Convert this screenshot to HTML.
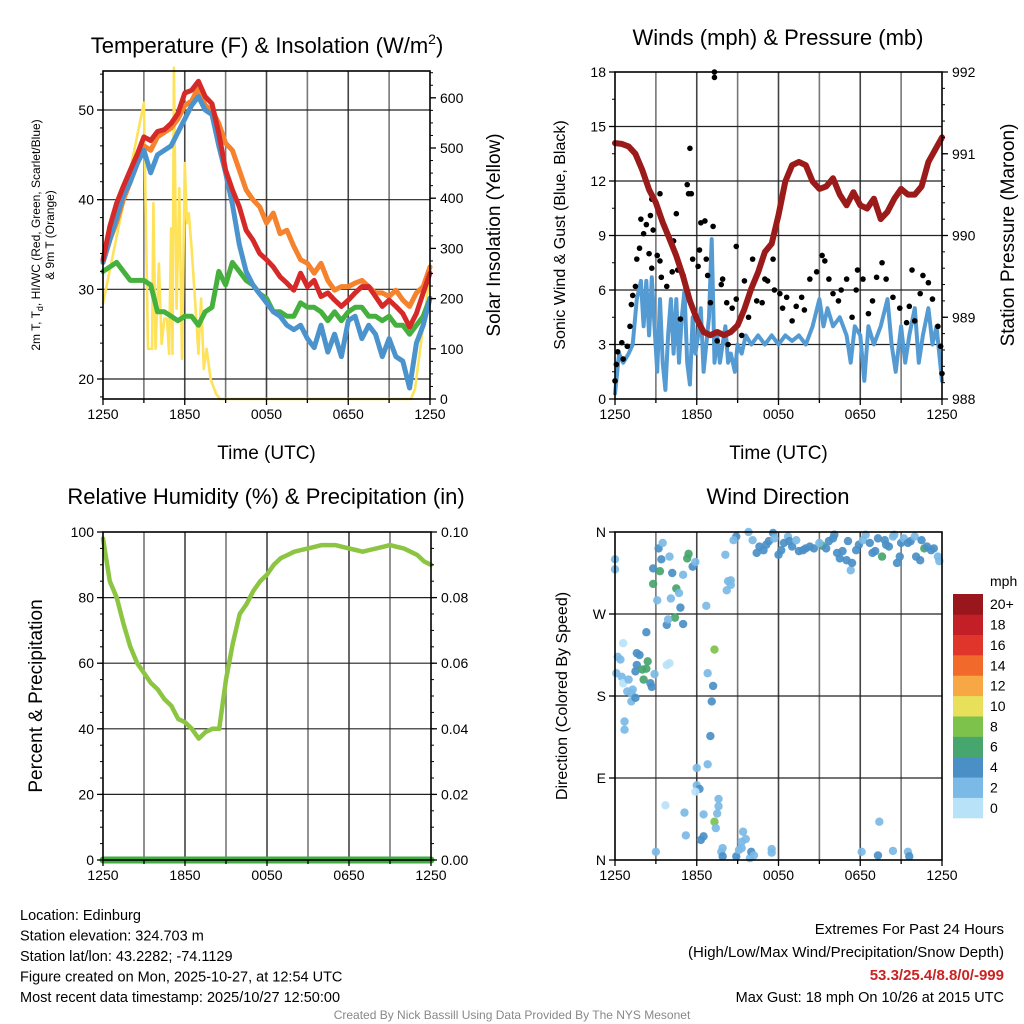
<!DOCTYPE html>
<html><head><meta charset="utf-8"><style>
html,body{margin:0;padding:0;background:#fff;}
svg{display:block;font-family:"Liberation Sans",Arial,sans-serif;}
</style></head><body>
<svg id="c" width="1024" height="1024" viewBox="0 0 1024 1024"></svg>
<script>
// ---------- DATA ----------
const hours = [0,0.5,1,1.5,2,2.5,3,3.5,4,4.5,5,5.5,6,6.5,7,7.5,8,8.5,9,9.5,10,10.5,11,11.5,12,12.5,13,13.5,14,14.5,15,15.5,16,16.5,17,17.5,18,18.5,19,19.5,20,20.5,21,21.5,22,22.5,23,23.5,24];
const tempRed = [33.3,37,39.6,41.5,43.3,45,47,46.6,47.6,47.8,48.5,49.6,51.9,52.2,53.2,51.5,50.7,47.4,43.3,41.1,39.2,36.6,35.5,34,33.3,32.5,31.4,30.7,29.9,31.8,30.3,31,29.2,29.6,28.8,28.1,28.8,29.6,30.3,30.3,29.2,28.1,28.8,28.1,27.3,25.8,27.3,29.6,31.8];
const temp9m = [33,35.5,37.5,40,42,44,46,45.5,47,47.5,48,49,50.5,51,52.5,50.5,50,48.5,46.3,45.5,43.3,41.1,40,39.2,37.4,38.5,36.2,36.6,34.8,33.3,32.9,31.8,32.9,31,29.9,30.3,30.3,30.7,31,30.3,29.6,29.6,29.2,29.9,28.8,28.1,29.6,30.3,32.5];
const windChill = [33,35.5,38,40.5,42,44,45.5,43,45,45.5,46,47.5,49,50.5,51.5,50,49.5,46,43,39.5,35,32,30.5,29.5,28.5,27.5,27,26,25.5,26,24.5,23.5,26,23,25,22.5,26.5,27,24.5,26,25,22.5,24.5,22.5,22,19,24,26,29];
const dewpoint = [32,32.5,33,32,31,31,31,30.5,27.5,27.5,27,26.5,27,27,26,27.5,28,32,30.5,33,32,31,30.5,29.5,29,27.5,27.5,27,27,28.5,28,28,27.5,26.5,27.5,26.5,27.5,28,28,27,27,26.5,27,26,26,25,26,27,29];
const solarHours = [0,3.0,3.3,3.6,3.7,3.85,4.1,4.3,4.5,4.7,4.85,5.0,5.1,5.2,5.4,5.6,5.8,6.0,6.15,6.3,6.5,6.8,7.0,7.2,7.4,7.6,7.9,8.3,8.6,22.6,22.9,24];
const solar = [190,590,100,100,390,100,270,110,160,160,90,340,90,660,180,420,80,470,350,370,300,180,90,200,60,100,40,10,0,0,20,250];

const pressure = [991.13,991.12,991.09,991.0,990.8,990.56,990.4,990.16,989.96,989.75,989.5,989.2,988.98,988.82,988.78,988.82,988.78,988.82,988.9,989.1,989.35,989.55,989.8,989.9,990.25,990.66,990.86,990.9,990.86,990.66,990.57,990.6,990.7,990.5,990.37,990.53,990.37,990.33,990.45,990.2,990.29,990.45,990.57,990.5,990.5,990.6,990.9,991.05,991.2];
const windHours = [0,0.3,0.6,1.0,1.3,1.6,1.9,2.1,2.3,2.5,2.7,2.9,3.1,3.3,3.5,3.7,3.9,4.1,4.3,4.5,4.7,4.9,5.1,5.3,5.5,5.7,5.9,6.1,6.3,6.5,6.7,6.9,7.1,7.3,7.5,7.7,7.9,8.1,8.3,8.5,8.8,9.0,9.3,9.6,10,10.5,11,11.5,12,12.5,13,13.5,14,14.5,15,15.3,15.6,16,16.5,17,17.3,17.6,18,18.3,18.6,19,19.5,20,20.3,20.6,21,21.3,21.6,22,22.3,22.6,23,23.3,23.6,24];
const windSpeed = [0.3,2.5,2.0,2.5,3,5.5,6.5,4,6.5,3.5,6.7,4,1.5,5.5,2,0.5,3.5,5.5,2.5,5.5,2,4.5,6,2,0.8,4.5,2.5,3.5,5,1.5,3,4.5,8.8,2,3.5,2,3,4,2,2.5,1.5,3,2.5,3.5,3,3.5,3,3.5,3,3.5,3.2,3.5,3,4,5.5,4,5,4,4.5,3.5,2,4,3.5,1,4,3,4,5.5,3,1.5,4,2,3.5,5,2,3.5,5,3,4,1];
const gustHours = [0,0.1,0.2,0.5,0.6,0.9,1.1,1.2,1.3,1.5,1.6,1.8,1.9,2.1,2.3,2.6,2.7,2.8,2.5,2.7,3.1,3.3,3.3,3.4,3.8,4.2,4.3,4.5,4.6,4.8,5.0,5.3,5.4,5.5,5.6,5.7,6.0,6.1,6.2,6.3,6.6,6.7,6.8,7.0,7.2,7.3,7.3,7.5,7.8,7.9,8.2,8.3,8.6,8.9,8.9,9.3,9.5,9.8,10.1,10.4,10.8,11.0,11.2,11.6,11.7,12.1,12.3,12.6,13.0,13.3,13.7,13.9,14.3,14.8,15.2,15.4,15.7,16.0,16.4,16.6,17.0,17.4,17.7,17.8,18.2,18.6,18.9,19.2,19.6,19.9,20.4,20.9,21.4,21.6,21.8,22.0,22.4,22.6,23.0,23.3,23.7,23.9,24.0];
const gustSpeed = [1.0,1.9,2.6,3.1,2.2,2.9,4.0,5.2,5.7,6.2,7.7,8.3,9.9,9.1,9.6,10.1,11.0,9.3,8.0,7.2,7.9,11.3,7.6,6.7,6.2,7.0,8.7,10.2,7.1,4.4,6.8,11.8,11.3,13.8,11.3,7.7,4.4,7.3,8.2,9.7,9.8,7.7,6.8,5.3,9.5,17.7,18.0,3.2,6.3,6.6,5.3,3.0,5.0,8.4,5.5,3.5,6.5,4.5,7.7,5.4,5.3,6.6,6.5,7.7,6.0,5.8,5.0,5.6,4.3,5.1,5.6,4.9,6.6,7.0,7.9,7.6,6.6,5.8,5.4,6.0,6.6,4.5,6.0,7.1,6.6,4.7,5.4,6.7,7.5,6.6,5.6,5.0,4.2,5.1,7.1,4.3,5.8,6.8,6.4,5.5,4.0,2.9,1.4];

const rh = [98,85,80,72,65,60,57,54,52,49,47,43,42,40,37,39,40,40,55,66,75,78,82,85,87,90,92,93,94,94.5,95,95.5,96,96,96,95.5,95,94.5,94,94.5,95,95.5,96,95.5,95,94,93,91,90];
const precip = [0,0,0,0,0,0,0,0,0,0,0,0,0,0,0,0,0,0,0,0,0,0,0,0,0,0,0,0,0,0,0,0,0,0,0,0,0,0,0,0,0,0,0,0,0,0,0,0,0];

const dirHours = [0.0,0.0,0.7,0.7,0.2,0.4,0.1,0.5,0.6,0.6,1.0,0.9,1.2,1.3,1.2,1.5,1.6,1.8,1.6,1.5,2.0,2.1,2.4,2.3,2.6,2.7,2.9,2.3,2.8,2.8,3.1,3.3,3.4,3.2,3.5,4.0,4.2,4.1,4.5,4.7,4.8,4.4,3.8,3.9,5.0,5.0,5.4,5.3,5.7,5.9,6.7,8.1,3.8,4.0,3.7,3.0,5.1,5.2,6.0,6.0,6.2,5.9,6.3,6.5,6.5,6.8,6.8,7.2,7.1,7.0,7.3,7.3,7.4,7.5,7.6,7.6,7.8,7.9,7.9,8.9,9.1,9.3,9.4,9.6,9.3,9.9,10.0,10.2,11.5,11.5,8.3,8.5,8.2,8.5,8.9,8.7,9.8,18.1,19.3,19.4,20.4,21.5,21.6,10.1,10.4,10.6,10.9,11.1,11.3,11.6,11.7,12.0,12.2,12.4,12.7,12.8,13.0,13.3,13.5,13.8,14.0,14.3,14.6,15.2,15.0,15.5,15.7,16.0,16.1,16.3,16.5,16.7,17.0,17.1,17.3,17.4,17.7,17.9,18.2,18.4,18.7,18.9,19.1,19.3,19.6,19.8,19.9,20.1,20.4,20.5,20.7,20.9,21.0,21.2,21.5,21.7,22.0,22.1,22.4,22.7,22.9,23.2,23.4,23.7,23.8,22.5];
const dirDeg = [330,319,152,143,223,220,205,201,194,238,198,185,183,187,174,178,227,225,214,207,209,198,218,210,194,190,204,250,320,303,285,317,330,342,348,333,315,287,298,293,277,266,258,264,259,313,336,331,322,327,279,335,214,216,60,9,52,27,101,82,78,75,22,26,50,105,205,191,174,136,231,42,35,51,67,59,9,4,13,4,11,20,31,23,13,2,9,5,12,8,306,307,296,302,355,351,360,9,5,42,10,9,4,351,337,344,340,346,350,359,353,335,340,348,355,350,344,351,339,340,342,344,342,345,348,342,350,353,357,337,331,339,329,350,318,326,340,346,351,357,348,337,339,353,333,351,346,344,355,357,326,333,348,353,348,350,355,333,329,342,344,340,342,333,328,351];
const dirSpeed = [3,3,3,3,3,3,3,3,1,1,3,3,3,3,3,5,5,5,5,5,7,7,7,7,5,5,3,5,5,7,3,7,5,5,3,3,5,3,7,3,5,7,5,3,5,3,7,7,5,3,3,3,1,1,1,3,3,3,3,3,5,1,5,5,3,3,3,5,5,5,9,9,3,3,3,3,3,5,3,5,3,3,3,3,3,3,5,3,3,3,3,3,3,3,5,3,3,3,5,3,3,3,5,3,5,5,5,5,5,5,3,5,5,5,3,5,5,3,5,5,5,5,5,7,3,5,5,5,5,5,5,5,5,5,3,5,5,5,3,3,5,5,5,5,7,5,5,5,3,3,5,5,5,3,5,5,3,5,5,7,5,5,5,3,3,5];

const timeTickLabels = ["1250","1850","0050","0650","1250"];
const tempTicks = [20,30,40,50];
const solarTicks = [0,100,200,300,400,500,600];
const windTicks = [0,3,6,9,12,15,18];
const pressTicks = [988,989,990,991,992];
const rhTicks = [0,20,40,60,80,100];
const precipTicks = ["0.00","0.02","0.04","0.06","0.08","0.10"];
const dirTicks = ["N","E","S","W","N"];
const cbLabels = ["0","2","4","6","8","10","12","14","16","18","20+"];
const cbColors = ["#b8e2f8","#7bbae6","#4a8fc6","#47a56e","#7dc24b","#e8e05a","#f8a745","#f26a2b","#e0352b","#c21f26","#99161c"];

// ---------- DRAW ----------
const S = document.getElementById('c');
const NS = 'http://www.w3.org/2000/svg';
function mk(tag, attrs, parent){const e=document.createElementNS(NS,tag);for(const k in attrs)e.setAttribute(k,attrs[k]);(parent||S).appendChild(e);return e;}
function txt(s,x,y,size,anchor,parent,extra){const e=mk('text',Object.assign({x:x,y:y,'font-size':size,'text-anchor':anchor||'middle',fill:'#000'},extra||{}),parent);e.textContent=s;return e;}
function lin(a,b,c,d){return v=>c+(v-a)*(d-c)/(b-a);}

function panel(name,L,R,T,B){
  const g=mk('g',{});
  
  
  return {g,L,R,T,B,x:lin(0,24,L,R)};
}
function grid(p,yvals,ymap){
  const gg=mk('g',{},p.g);
  
  
  for(let h=3;h<24;h+=3){mk('line',{x1:p.x(h),x2:p.x(h),y1:p.T,y2:p.B,stroke:(h%6==0)?'#444':'#777','stroke-width':1.6},gg);}
  yvals.forEach(v=>{const y=ymap(v);if(y>p.T+1&&y<p.B-1)mk('line',{x1:p.L,x2:p.R,y1:y,y2:y,stroke:'#222','stroke-width':1.2},gg);});
}
function frame(p){
  const f=mk('rect',{x:p.L,y:p.T,width:p.R-p.L,height:p.B-p.T,fill:'none',stroke:'#000','stroke-width':1.6},p.g);
  
  
}
function xAxis(p,title){
  const g=mk('g',{},p.g);
  
  
  for(let h=0;h<=24;h+=3){mk('line',{x1:p.x(h),x2:p.x(h),y1:p.B,y2:p.B+(h%6==0?6:4),stroke:'#000','stroke-width':1.3},g);}
  timeTickLabels.forEach((s,i)=>txt(s,p.x(i*6),p.B+20,14,'middle',g));
  if(title){const t=txt(title,(p.L+p.R)/2,p.B+60,19,'middle',g);}
}
function yLeft(p,vals,labels,map,minor){
  const g=mk('g',{},p.g);
  
  
  vals.forEach((v,i)=>{const y=map(v);mk('line',{x1:p.L-6,x2:p.L,y1:y,y2:y,stroke:'#000','stroke-width':1.3},g);txt(String(labels[i]),p.L-9,y+5,14,'end',g);});
  (minor||[]).forEach(v=>{const y=map(v);if(y>=p.T&&y<=p.B)mk('line',{x1:p.L-3,x2:p.L,y1:y,y2:y,stroke:'#000','stroke-width':1},g);});
}
function yRight(p,vals,labels,map,minor){
  const g=mk('g',{},p.g);
  
  
  vals.forEach((v,i)=>{const y=map(v);mk('line',{x1:p.R,x2:p.R+6,y1:y,y2:y,stroke:'#000','stroke-width':1.3},g);txt(String(labels[i]),p.R+10,y+5,14,'start',g);});
  (minor||[]).forEach(v=>{const y=map(v);if(y>=p.T&&y<=p.B)mk('line',{x1:p.R,x2:p.R+3,y1:y,y2:y,stroke:'#000','stroke-width':1},g);});
}
function path(p,xs,ys,xm,ym,color,w,name){
  let d='';xs.forEach((t,i)=>{d+=(i?'L':'M')+xm(t).toFixed(1)+','+ym(ys[i]).toFixed(1);});
  const e=mk('path',{d:d,fill:'none',stroke:color,'stroke-width':w,'stroke-linejoin':'round','stroke-linecap':'round'},p.g);
  
  
  return e;
}
function rotText(s,x,y,size,parent,name){
  const e=txt(s,0,0,size,'middle',parent,{transform:'translate('+x+','+y+') rotate(-90)'});
  
  
  return e;
}
function title(s,x,y,name){const e=txt(s,x,y,22,'middle');return e;}
function range(a,b,s){const r=[];for(let v=a;v<=b+1e-9;v+=s)r.push(+v.toFixed(4));return r;}

// Panel 1
const p1=panel('temperature-panel',103,430,71,399);
const yT=lin(20,50,379,110), yS=lin(0,600,399,97.8);
grid(p1,tempTicks,yT);
path(p1,solarHours,solar,p1.x,yS,'#fde25a',2.6,'solar-insolation-line');
path(p1,hours,dewpoint,p1.x,yT,'#45b03d',5,'dewpoint-line');
path(p1,hours,temp9m,p1.x,yT,'#f5822d',5,'temp-9m-line');
path(p1,hours,windChill,p1.x,yT,'#4b93cc',5,'windchill-line');
path(p1,hours,tempRed,p1.x,yT,'#d62a28',5,'temp-2m-line');
frame(p1);xAxis(p1,'Time (UTC)');
yLeft(p1,tempTicks,tempTicks,yT,range(18,54,2));
yRight(p1,solarTicks,solarTicks,yS,range(0,650,25));
const t1=mk('text',{x:267,y:53,'font-size':22,'text-anchor':'middle'});
t1.innerHTML='Temperature (F) &amp; Insolation (W/m<tspan dy="-9" font-size="14">2</tspan><tspan dy="9">)</tspan>';
const yl1=mk('text',{transform:'translate(40,235) rotate(-90)','font-size':12,'text-anchor':'middle'});
yl1.innerHTML='2m T, T<tspan dy="3" font-size="9">d</tspan><tspan dy="-3">, HI/WC (Red, Green, Scarlet/Blue)</tspan>';
const yl1b=txt('& 9m T (Orange)',0,0,12,'middle',S,{transform:'translate(54,235) rotate(-90)'});
rotText('Solar Insolation (Yellow)',500,235,19,S,'solar-y-axis-title');

// Panel 2
const p2=panel('wind-pressure-panel',615,942,72,399);
const yW=lin(0,18,399,72), yP=lin(988,992,399,72);
grid(p2,windTicks,yW);
path(p2,windHours,windSpeed,p2.x,yW,'#559bd3',4,'sonic-wind-line');
const gg=mk('g',{},p2.g);
gustHours.forEach((t,i)=>{const c=mk('circle',{cx:p2.x(t),cy:yW(gustSpeed[i]),r:2.8,fill:'#000'},gg);});
path(p2,hours,pressure,p2.x,yP,'#9b1a1a',6,'pressure-line');
frame(p2);xAxis(p2,'Time (UTC)');
yLeft(p2,windTicks,windTicks,yW,range(0,18,1.5));
yRight(p2,pressTicks,pressTicks,yP,range(988,992,0.2));
title('Winds (mph) & Pressure (mb)',778,45,'winds-title');
rotText('Sonic Wind & Gust (Blue, Black)',565,235,16,S,'wind-y-axis-title');
rotText('Station Pressure (Maroon)',1014,235,19,S,'pressure-y-axis-title');

// Panel 3
const p3=panel('humidity-panel',103,431,532,860);
const yR=lin(0,100,860,532), yPr=lin(0,0.1,860,532);
grid(p3,rhTicks,yR);
path(p3,hours,precip,p3.x,yPr,'#3fae3f',7,'precipitation-line');
path(p3,hours,rh,p3.x,yR,'#8cc542',4.5,'relative-humidity-line');
frame(p3);xAxis(p3,null);
yLeft(p3,rhTicks,rhTicks,yR,range(0,100,5));
yRight(p3,[0,0.02,0.04,0.06,0.08,0.1],precipTicks,yPr,range(0,0.1,0.005));
title('Relative Humidity (%) & Precipitation (in)',266,504,'humidity-title');
rotText('Percent & Precipitation',42,696,19,S,'humidity-y-axis-title');

// Panel 4
const p4=panel('wind-direction-panel',615,942,532,860);
const yD=lin(0,360,860,532);
grid(p4,[90,180,270],yD);
function spdColor(s){let i=Math.floor(s/2);if(i>10)i=10;if(i<0)i=0;return cbColors[i];}
const dg=mk('g',{},p4.g);
dirHours.forEach((t,i)=>{const c=mk('circle',{cx:p4.x(t),cy:yD(dirDeg[i]),r:4.2,fill:spdColor(dirSpeed[i]),'fill-opacity':0.92},dg);});
frame(p4);xAxis(p4,null);
yLeft(p4,[0,90,180,270,360],dirTicks,yD,[]);
title('Wind Direction',778,504,'wind-direction-title');
rotText('Direction (Colored By Speed)',567,696,16,S,'direction-y-axis-title');
// colorbar
const cb=mk('g',{});
const cbT=594,cbB=818,cbH=(cbB-cbT)/11;
cbColors.forEach((col,i)=>{const y=cbB-(i+1)*cbH;const r=mk('rect',{x:953,y:y,width:30,height:cbH+0.3,fill:col},cb);txt(cbLabels[i],990,y+cbH/2+5,14,'start',cb);});
txt('mph',990,586,14,'start',cb);

// Footer text
const info=mk('g',{});
["Location: Edinburg","Station elevation: 324.703 m","Station lat/lon: 43.2282; -74.1129","Figure created on Mon, 2025-10-27, at 12:54 UTC","Most recent data timestamp: 2025/10/27 12:50:00"].forEach((s,i)=>txt(s,20,920+i*20.5,14.5,'start',info));
const ex=mk('g',{});
txt('Extremes For Past 24 Hours',1004,934,15,'end',ex);
txt('(High/Low/Max Wind/Precipitation/Snow Depth)',1004,957,15,'end',ex);
txt('53.3/25.4/8.8/0/-999',1004,980,15,'end',ex,{fill:'#cc2222','font-weight':'bold'});
txt('Max Gust: 18 mph On 10/26 at 2015 UTC',1004,1002,14.5,'end',ex);
const cr=txt('Created By Nick Bassill Using Data Provided By The NYS Mesonet',512,1019,12,'middle',S,{fill:'#888'});
</script>
</body></html>
